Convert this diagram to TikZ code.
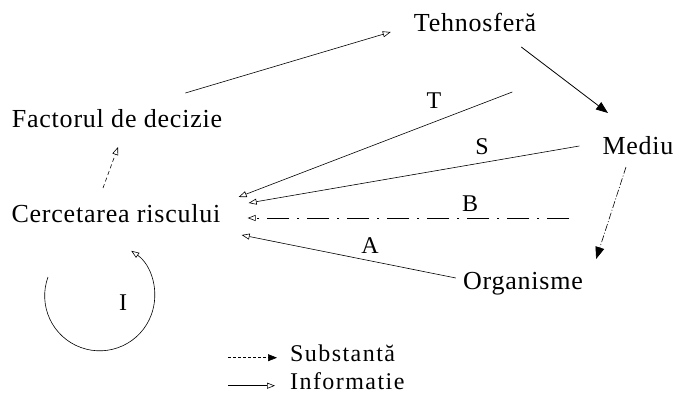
\documentclass[tikz,border=0pt]{standalone}
\usepackage{fontspec}
\setmainfont{Liberation Serif}[LetterSpace=3.0]
\newfontfamily\legendfont{Liberation Serif}[LetterSpace=6.0]
\usetikzlibrary{arrows.meta}

\begin{document}
\begin{tikzpicture}[x=1pt,y=-1pt,
 lbl/.style={inner sep=0pt,anchor=base,font=\fontsize{26}{30}\selectfont},
 let/.style={inner sep=0pt,anchor=base,font=\fontsize{24}{28}\selectfont},
 leg/.style={inner sep=0pt,anchor=base west,font={\legendfont\fontsize{24}{28}\selectfont}},
 info/.style={line width=0.6pt,-{Triangle[open,length=8pt,width=6pt]}},
 subst/.style={line width=0.8pt,-{Triangle[length=12pt,width=9pt]}}]
\useasboundingbox (0,0) rectangle (674,394);
% the five boxes of the scheme
\node[lbl] (teh) at (475,31) {Tehnosferă};
\node[lbl] (fac) at (117,127) {Factorul de decizie};
\node[lbl] (med) at (638,154) {Mediu};
\node[lbl] (cer) at (116,222) {Cercetarea riscului};
\node[lbl] (org) at (523,289) {Organisme};
\foreach \n/\t/\x/\y in {lT/T/434/108, lS/S/482/154, lB/B/470/211, lA/A/370/253, lI/I/123/310}
 \node[let] (\n) at (\x,\y) {\t};
% flows of substance
\draw[subst] ([xshift=-15pt,yshift=-16pt]teh.base east) -- ([xshift=-30pt,yshift=41pt]med.base);
\draw[subst,line width=0.6pt,dash pattern=on 7pt off 2pt on 1pt off 2pt] ([xshift=-12pt,yshift=-13pt]med.base) -- ([xshift=13pt,yshift=30pt]org.base east);
% flows of information
\draw[info] ([xshift=-37pt,yshift=34pt]fac.base east) -- ([xshift=-23pt,yshift=-1pt]teh.base west);
\draw[info,dash pattern=on 4pt off 3pt] ([xshift=-13pt,yshift=34pt]cer.base) -- ([xshift=1pt,yshift=-20pt]fac.base);
\draw[info] ([xshift=-24pt,yshift=-61pt]teh.base east) -- ([xshift=18pt,yshift=25pt]cer.base east);
\draw[info] ([xshift=-23pt,yshift=8pt]med.base west) -- ([xshift=28pt,yshift=19pt]cer.base east);
\draw[info,dash pattern=on 22pt off 8pt on 2pt off 8pt] ([xshift=-33pt,yshift=-64pt]med.base west) -- ([xshift=27pt,yshift=4pt]cer.base east);
\draw[info] ([xshift=-7pt,yshift=11pt]org.base west) -- ([xshift=21pt,yshift=-13pt]cer.base east);
\draw[info] ([xshift=-68pt,yshift=-55pt]cer.base) arc[start angle=160,end angle=415,radius=55pt];
% legend
\node[leg] (sub) at (290,361) {Substantă};
\node[leg] (inf) at (290,389) {Informatie};
\draw[subst,line width=0.6pt,dash pattern=on 3pt off 2pt,-{Triangle[length=9pt,width=7pt]}] ([xshift=-62pt,yshift=1pt]sub.mid west) -- ([xshift=-13pt,yshift=1pt]sub.mid west);
\draw[info] ([xshift=-62pt,yshift=1pt]inf.mid west) -- ([xshift=-15pt,yshift=1pt]inf.mid west);
\end{tikzpicture}
\end{document}
